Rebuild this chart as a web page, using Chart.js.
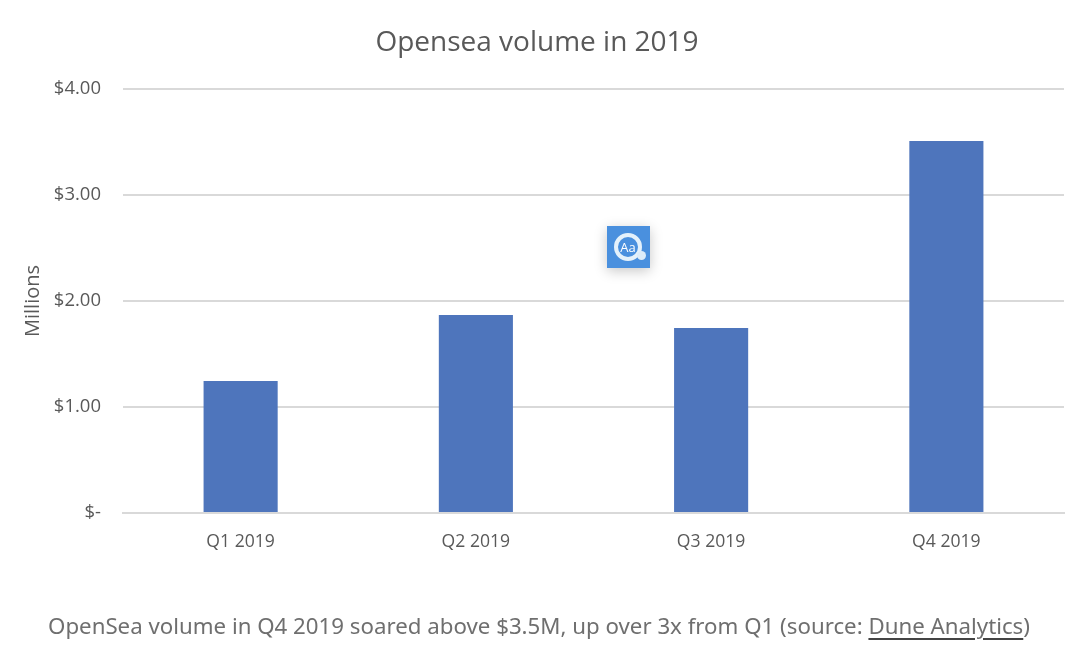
<!DOCTYPE html>
<html>
<head>
<meta charset="utf-8">
<title>Opensea volume in 2019</title>
<script src="https://cdn.jsdelivr.net/npm/chart.js@4"></script>
<style>
    html, body { margin: 0; padding: 0; background: #fff; }
    #wrap { position: relative; width: 1080px; height: 655px; overflow: hidden; }
    #caption {
        position: absolute; left: 48px; top: 610px; white-space: nowrap;
        font: 22.27px "Noto Sans", sans-serif; color: #6f6f6f;
    }
    #caption a {
        color: inherit;
        text-decoration: underline 2px #444;
        text-underline-offset: 4px;
    }
    #badge {
        position: absolute; left: 607px; top: 226px; width: 43px; height: 42px;
        background: #4a90de; box-shadow: 0 3px 12px rgba(0, 0, 0, .22);
    }
    #badge span {
        position: absolute; left: 7px; top: 7px; width: 20px; height: 20px;
        border: 4px solid #e4f1fb; border-radius: 50%; color: #fff; text-align: center;
        font: 13px/20px "Open Sans", sans-serif;
    }
    #badge i {
        position: absolute; left: 30px; top: 25px; width: 9px; height: 9px;
        border-radius: 50%; background: #dcecf9;
    }
</style>
</head>
<body>
<div id="wrap">
    <canvas id="chart" width="1080" height="655"></canvas>
    <div id="badge"><span>Aa</span><i></i></div>
    <div id="caption">OpenSea volume in Q4 2019 soared above $3.5M, up over 3x from Q1 (source: <a>Dune Analytics</a>)</div>
</div>
<script>
const quarters = ["Q1 2019", "Q2 2019", "Q3 2019", "Q4 2019"]
const volumes = [1.245, 1.868, 1.745, 3.51]
const yTicks = ["$-", "$1.00", "$2.00", "$3.00", "$4.00"]

const textColor = "#595959"
const gridColor = "#d9d9d9"
const fontFamily = '"Open Sans", sans-serif'

new Chart(document.getElementById("chart"), {
    type: "bar",
    data: {
        labels: quarters,
        datasets: [
            {
                label: "Volume",
                data: volumes,
                backgroundColor: "#4e75bc",
                categoryPercentage: 1,
                barPercentage: 0.315
            }
        ]
    },
    options: {
        responsive: false,
        animation: false,
        layout: { padding: { left: 10, right: 16 } },
        plugins: {
            legend: { display: false },
            tooltip: { enabled: false },
            title: {
                display: true,
                text: "Opensea volume in 2019",
                color: textColor,
                font: { family: fontFamily, size: 28, weight: "normal" },
                padding: { top: 26, bottom: 29.4 }
            }
        },
        scales: {
            x: {
                grid: { display: false },
                border: { color: gridColor, width: 2 },
                ticks: {
                    color: textColor,
                    padding: 10,
                    maxRotation: 0,
                    font: { family: fontFamily, size: 17.6 }
                },
                afterFit: scale => { scale.height = 142 }
            },
            y: {
                min: 0,
                max: 4,
                grid: { color: gridColor, lineWidth: 2, drawTicks: false },
                border: { display: false },
                title: {
                    display: true,
                    text: "Millions",
                    color: textColor,
                    font: { family: fontFamily, size: 20, weight: "normal" },
                    padding: { top: 11, bottom: 0 }
                },
                ticks: {
                    color: textColor,
                    padding: 22,
                    stepSize: 1,
                    font: { family: fontFamily, size: 18.5 },
                    callback: (value, i) => yTicks[i]
                },
                afterFit: scale => { scale.width = 113 }
            }
        }
    }
})
</script>
</body>
</html>
